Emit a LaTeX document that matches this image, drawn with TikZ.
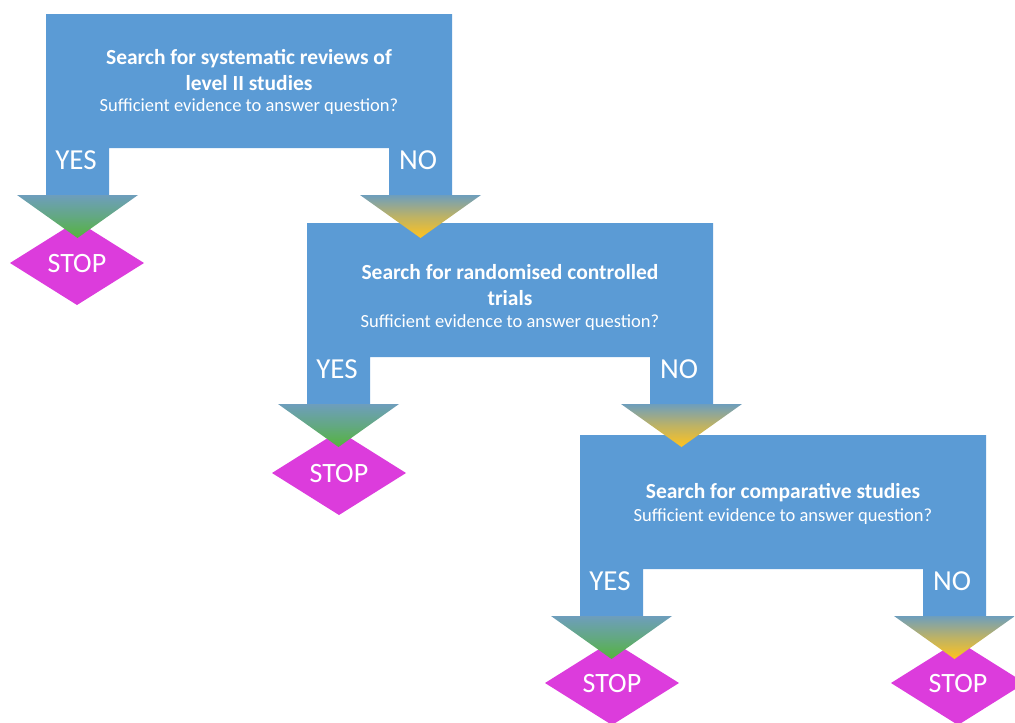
\documentclass[tikz,border=0pt]{standalone}
\usepackage{fontspec}
\setmainfont{Carlito}
\definecolor{boxblue}{RGB}{91,155,213}
\definecolor{stopmag}{RGB}{220,60,220}
\definecolor{steel}{RGB}{110,158,188}
\definecolor{yesgreen}{RGB}{85,180,60}
\definecolor{noyellow}{RGB}{255,195,30}
\tikzset{
  x=1pt, y=-1pt,
  blockfill/.style={fill=boxblue, draw=none},
  yeshead/.style={top color=steel, bottom color=yesgreen, middle color=steel!55!yesgreen, draw=none},
  nohead/.style={top color=steel, bottom color=noyellow, middle color=steel!45!noyellow, draw=none},
  stopfill/.style={fill=stopmag, draw=none},
  title/.style={text=white, font=\fontsize{21.5}{26}\selectfont\bfseries, align=center, inner sep=0},
  sub/.style={text=white, font=\fontsize{18.5}{22}\selectfont, inner sep=0},
  yn/.style={text=white, font=\fontsize{29}{34}\selectfont, inner sep=0},
  stoplbl/.style={text=white, font=\fontsize{28}{32}\selectfont, inner sep=0},
}
% #1 x0, #2 y0, #3 suffix
\newcommand{\myblock}[3]{%
  \fill[blockfill] (#1,#2) -- ++(406,0) -- ++(0,181) -- ++(-63,0) -- ++(0,-47)
     -- ++(-280,0) -- ++(0,47) -- ++(-63,0) -- cycle;
  \coordinate (yl#3) at ({#1+31.5},{#2+181});
  \coordinate (nl#3) at ({#1+374.5},{#2+181});
  \shade[yeshead] ($(yl#3)+(-60.5,0)$) -- ($(yl#3)+(60.5,0)$) -- ($(yl#3)+(0,43)$) -- cycle;
  \shade[nohead] ($(nl#3)+(-60.5,0)$) -- ($(nl#3)+(60.5,0)$) -- ($(nl#3)+(0,43)$) -- cycle;
  \node[yn] (yes#3) at ({#1+30},{#2+146}) {YES};
  \node[yn] (no#3) at ({#1+372},{#2+146}) {NO};
}
\newcommand{\mystop}[3]{%
  \fill[stopfill] (#1,#2) ++(-67,0) -- ++(67,-42) -- ++(67,42) -- ++(-67,42) -- cycle;
  \node[stoplbl] (#3) at (#1,{#2+1}) {STOP};
}
\usetikzlibrary{calc}
\begin{document}
\begin{tikzpicture}
\useasboundingbox (0,0) rectangle (1015,723);
\mystop{77}{263}{stopA}
\mystop{339}{473}{stopB}
\mystop{612}{683}{stopC}
\mystop{958}{683}{stopD}
\myblock{580}{435}{C}
\myblock{307}{223}{B}
\myblock{46}{14}{A}
\node[title] (tA) at (249,70) {Search for systematic reviews of\\level II studies};
\node[sub] (sA) at (249,107) {Sufficient evidence to answer question?};
\node[title] (tB) at (510,285) {Search for randomised controlled\\trials};
\node[sub] (sB) at (510,323) {Sufficient evidence to answer question?};
\node[title] (tC) at (783,493) {Search for comparative studies};
\node[sub] (sC) at (783,517) {Sufficient evidence to answer question?};
\end{tikzpicture}
\end{document}
